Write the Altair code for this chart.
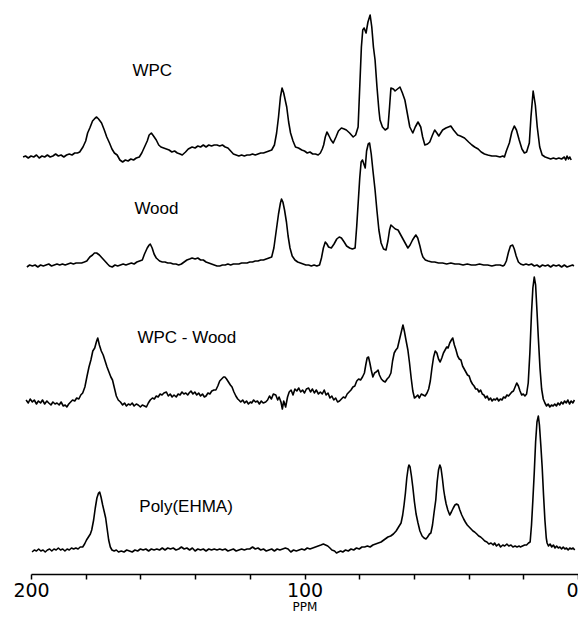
import altair as alt
import pandas as pd

# (ppm, intensity), each trace above its own baseline
WPC = [(202.9,0),(202,1),(201,-1),(200,1),(199,0),(198,2),(197,-1),(196,1),(195,0),(194,2),(193,0),(192,1),(191,3),(190,1),(189,2),(188,0),(187,2),(186,3),(185,2),(184,4),(183,4),(182.2,5),(181,10),(180,16),(179.3,24),(178.5,29),(177.5,36),(176.5,39),(176.0,40),(175.3,38),(174.2,34),(173.2,27),(172.3,20),(171.3,14),(170.4,8),(169.5,4),(168.5,2),(167.5,-3),(166.5,-5),(165.5,-3),(164.5,-4),(163.5,-2),(162.5,-3),(161.5,-1),(160.4,0),(159.5,4),(158.5,10),(157.5,16),(156.8,22),(156.0,24),(155.2,21),(154.2,17),(153.3,12),(152.5,10),(151.5,9),(150.5,8),(149.5,7),(148.5,5),(147.5,6),(146.5,4),(145.5,3),(144.7,2),(143.5,5),(142.5,8),(141.1,10),(140,9),(139,11),(138,10),(137,12),(136,10),(135,12),(134,11),(133,12),(132,12),(131,11),(130,12),(129,10),(128,9),(127,6),(126,3),(125,2),(124,1),(123,2),(122,1),(121,2),(120,2),(119,3),(118,2),(117,3),(116,4),(115,4),(114,5),(113,6),(112,7),(111,12),(110.2,24),(109.5,40),(108.8,60),(108.2,69),(107.6,64),(106.9,55),(106.5,50),(105.8,35),(105.1,24),(104.2,16),(103.3,10),(102.2,9),(101,7),(100,6),(99,4),(98,5),(97,3),(96,3),(95,2),(94.2,4),(93.5,8),(93.0,12),(92.4,20),(91.8,25),(91.2,22),(90.3,17),(89.5,14),(88.5,20),(87.6,26),(86.5,29),(85.5,28),(84.7,27),(83.5,24),(82.2,20),(81.3,22),(80.4,30),(79.8,70),(79.2,110),(78.7,127),(78.2,129),(77.5,124),(76.8,135),(76.0,142),(75.4,130),(74.8,110),(74.2,97),(73.5,70),(72.8,47),(72.4,37),(71.5,30),(70.5,27),(69.5,29),(68.9,50),(68.4,69),(67.5,68),(66.9,66),(66.0,68),(65.1,70),(64.2,64),(63.3,57),(62.3,42),(61.5,30),(60.4,24),(59.5,30),(58.5,35),(57.5,30),(56.8,20),(56.0,12),(55.0,13),(54.2,15),(53.2,22),(52.4,27),(51.6,24),(50.9,21),(50.2,24),(49.5,27),(48.3,29),(47.4,30),(46.5,31),(45.5,27),(44.0,22),(43.0,21),(41.5,19),(40,15),(38.8,12),(37.8,10),(36.5,8),(35.4,5),(34.2,3),(33,2),(31.5,1),(30,1),(28.5,0),(27.5,1),(26.9,0),(26.2,6),(25.1,14),(24.2,25),(23.3,31),(22.5,27),(21.5,17),(20.5,8),(19.6,4),(18.8,5),(17.8,14),(17.2,40),(16.4,66),(15.6,52),(14.9,30),(14.0,10),(13.1,2),(12,0),(11,-1),(10,-2),(9,-1),(8,-2),(7,-1),(6,-2),(5,0),(4.5,-3),(4,1),(3.5,-2),(3,0),(2.5,-3)]

WOOD = [(201.5,-1),(200.5,1),(199.5,0),(198.5,1),(197.5,-1),(196.5,1),(195.5,0),(194.5,1),(193.5,2),(192.5,0),(191.5,1),(190.5,2),(189.5,1),(188.5,2),(187.5,1),(186.5,2),(185.5,3),(184.5,2),(183.5,3),(182.5,3),(181.5,3),(180.5,4),(179.6,5),(178.5,9),(177.5,11),(176.8,13),(176.0,13),(175.0,11),(174,8),(173,5),(172,2),(171.3,0),(170.3,-1),(169.3,1),(168.3,0),(167.3,1),(166.3,2),(165.3,1),(164.3,2),(163.3,3),(162.3,2),(161.3,4),(160.3,5),(159.3,6),(158.5,12),(157.5,18),(156.8,21),(156.4,22),(155.7,18),(155,12),(154.2,8),(153,5),(152,4),(151,4),(150,3),(149,3),(148,2),(147,2),(146,1),(145,2),(144,4),(143,6),(142,7),(141.1,8),(140,7),(139,8),(138,6),(137,6),(136,4),(135,3),(134,2),(133,1),(132,0),(131,0),(130,1),(129,1),(128,2),(127,1),(126,2),(125,2),(124,2),(123,3),(122,3),(121,3),(120,4),(119,4),(118,5),(117,5),(116,6),(115,6),(114,7),(113,8),(112,9),(111.2,18),(110.6,30),(110.0,42),(109.5,52),(108.8,63),(108.4,67),(107.9,64),(107.3,56),(106.6,44),(106.0,30),(105.3,18),(104.5,10),(103.5,6),(102.5,4),(101.5,3),(100.5,2),(99.5,1),(98.5,1),(97.5,0),(96.5,1),(95.5,0),(94.5,1),(93.8,8),(93.1,18),(92.4,24),(91.8,22),(91.2,19),(90.2,18),(89.2,22),(88.2,27),(87.3,29),(86.5,28),(85.5,24),(84.6,20),(83.5,18),(82.5,17),(81.5,18),(80.9,40),(80.4,62),(79.8,88),(79.3,104),(78.8,106),(78.3,102),(77.8,98),(77.3,115),(76.7,122),(76.2,123),(75.6,112),(75.0,96),(74.2,76),(73.5,55),(72.8,36),(72.0,23),(71.1,17),(70.2,16),(69.5,25),(68.9,36),(68.4,41),(67.6,39),(66.8,37),(65.8,36),(64.8,31),(63.8,26),(62.8,21),(62.2,18),(61.4,21),(60.5,26),(59.8,29),(59.3,31),(58.6,28),(57.8,20),(57.2,13),(56.7,9),(55.8,6),(54.8,5),(53.5,4),(52.4,4),(51,3),(49.5,3),(48,2),(46.5,3),(45,2),(43.5,2),(42,1),(40.5,2),(39,1),(37.5,1),(36,2),(34.5,1),(33,1),(31.5,0),(30,1),(28.5,1),(27.5,0),(26.9,1),(26.2,5),(25.4,14),(24.7,20),(23.9,21),(23.3,17),(22.6,10),(21.8,4),(21.0,2),(20.0,1),(19.0,2),(18.0,1),(17.0,2),(16.0,0),(15.0,1),(14.0,-1),(13.0,1),(12.0,0),(11.0,1),(10.0,-1),(9.0,1),(8.0,0),(7.0,1),(6.0,-1),(5.0,1),(4.0,-1),(3.0,0),(2.0,1),(1.5,0)]

DIFF = [(201.8,3),(201,0),(200.3,4),(199.5,1),(198.8,3),(198,-1),(197.3,2),(196.5,0),(195.8,3),(195,-1),(194.2,2),(193.5,0),(192.7,-2),(192,1),(191.2,-1),(190.5,0),(189.7,-2),(189,1),(188.2,-3),(187.5,-2),(186.9,-4),(186.2,-1),(185.5,1),(184.8,3),(184,2),(183.3,5),(182.5,4),(181.8,8),(181.1,10),(180.3,16),(179.5,27),(178.8,36),(178.1,43),(177.4,52),(176.7,55),(176.0,62),(175.6,65),(175.0,58),(174.3,52),(173.6,48),(172.9,42),(172.2,36),(171.5,31),(170.8,26),(170.2,23),(169.5,15),(168.8,7),(168.1,3),(167.3,1),(166.5,-2),(165.8,0),(165.1,-3),(164.4,-1),(163.7,-2),(163,0),(162.3,-3),(161.5,-1),(160.8,-2),(160,-4),(159.3,-2),(158.5,-3),(157.8,-4),(157.1,0),(156.4,3),(155.6,5),(154.9,4),(154.2,7),(153.5,6),(152.8,9),(152.1,8),(151.4,10),(150.5,11),(149.8,7),(149.1,9),(148.4,6),(147.7,8),(146.9,6),(146.2,9),(145.5,8),(144.8,11),(144.1,9),(143.4,10),(142.7,8),(142.2,10),(141.5,12),(140.8,9),(140.1,11),(139.4,8),(138.7,10),(138,7),(137.3,9),(136.6,6),(136.0,7),(135.3,10),(134.6,9),(133.9,12),(133.1,13),(132.4,13),(131.7,17),(131.0,22),(130.3,24),(129.6,26),(129.1,26),(128.5,24),(127.8,21),(127.1,18),(126.5,16),(125.8,11),(125.1,7),(124.4,4),(124.0,3),(123.3,1),(122.6,3),(121.9,0),(121.2,2),(120.5,-1),(119.8,1),(119.3,0),(118.6,3),(117.9,1),(117.2,2),(116.5,-1),(115.8,2),(115.1,0),(114.2,1),(113.5,3),(112.8,7),(112.1,4),(111.4,9),(110.5,8),(109.8,3),(109.3,6),(108.6,1),(108.1,-6),(107.6,2),(106.9,-4),(106.2,6),(105.6,11),(104.9,13),(104.2,8),(103.5,14),(102.8,12),(102.1,15),(101.4,11),(100.7,13),(100,10),(99.3,14),(98.5,15),(97.8,11),(97.1,14),(96.4,10),(95.7,13),(94.9,9),(94.2,11),(93.5,9),(92.8,13),(92.1,8),(91.4,10),(90.7,5),(90,7),(89.3,3),(88.6,5),(87.9,1),(87.2,2),(86.5,4),(85.8,6),(85.1,5),(84.4,9),(83.7,11),(83.0,13),(82.3,16),(81.6,17),(80.9,22),(80.2,24),(79.5,23),(78.8,26),(78.1,30),(77.6,38),(77.1,45),(76.6,46),(76.1,40),(75.6,33),(75.0,26),(74.4,30),(73.8,31),(73.1,33),(72.6,28),(71.9,24),(71.2,22),(70.5,21),(69.8,24),(69.1,26),(68.4,30),(67.8,42),(67.2,50),(66.6,53),(66.0,55),(65.4,62),(64.7,70),(64.0,78),(63.5,72),(62.9,63),(62.2,53),(61.6,40),(61.0,25),(60.4,12),(59.8,5),(59.3,6),(58.6,8),(58.0,5),(57.3,9),(56.6,8),(55.9,7),(55.2,10),(54.6,14),(54.0,22),(53.4,35),(52.8,46),(52.2,52),(51.6,50),(51.0,44),(50.4,41),(49.8,45),(49.2,50),(48.6,53),(48.0,56),(47.5,55),(46.9,60),(46.3,63),(45.8,65),(45.2,58),(44.6,53),(44.0,47),(43.4,44),(42.8,43),(42.2,37),(41.6,34),(41.0,31),(40.4,28),(39.8,27),(39.2,22),(38.6,19),(38.0,17),(37.4,14),(36.8,14),(36.2,11),(35.6,13),(35.0,9),(34.4,8),(33.8,5),(33.2,7),(32.6,3),(32.0,5),(31.4,2),(30.8,4),(30.2,3),(29.6,5),(29.0,2),(28.4,4),(27.8,3),(27.2,6),(26.6,5),(26.0,8),(25.4,7),(24.8,9),(24.2,11),(23.6,12),(23.0,16),(22.4,20),(21.8,17),(21.2,12),(20.6,8),(20.0,9),(19.4,7),(18.8,9),(18.2,20),(17.6,50),(17.0,90),(16.5,115),(16.0,126),(15.5,118),(15.0,92),(14.5,65),(13.9,35),(13.3,14),(12.7,4),(12.1,0),(11.5,-3),(10.9,-1),(10.3,-4),(9.7,-2),(9.1,-3),(8.5,-1),(7.9,-3),(7.3,0),(6.7,-2),(6.1,1),(5.5,-1),(4.9,2),(4.3,0),(3.7,3),(3.1,-1),(2.5,2),(1.9,0),(1.3,3)]

POLY = [(199.6,-2),(198.8,0),(198,-1),(197.2,1),(196.4,-1),(195.6,0),(194.8,-2),(194,0),(193.2,1),(192.4,-1),(191.6,1),(190.8,0),(190,2),(189.2,0),(188.4,1),(187.6,-1),(186.8,1),(186,0),(185.2,2),(184.4,1),(183.6,2),(182.8,1),(182,3),(181.1,3),(180.4,6),(179.7,10),(179,13),(178.3,16),(177.8,20),(177.1,30),(176.5,42),(175.9,52),(175.3,57),(174.9,58),(174.4,53),(173.8,45),(173.2,38),(172.7,32),(172.2,22),(171.6,10),(171.0,3),(170.4,0),(169.6,-1),(168.8,0),(168,-2),(167,-1),(166,-2),(165,0),(164,-1),(163,-2),(162,0),(161,-1),(160,1),(159,0),(158,1),(157,-1),(156,1),(155,0),(154,1),(153,0),(152,2),(151,0),(150,2),(149,1),(148,2),(147,0),(146,1),(145,3),(144,1),(143,2),(142,0),(141,2),(140,-1),(139,1),(138,0),(137,1),(136,-1),(135,1),(134,0),(133,1),(132,0),(131,1),(130,0),(129,1),(128,-1),(127,0),(126,1),(125,-1),(124,0),(123,1),(122,0),(121,1),(120,1),(119,3),(118,1),(117,2),(116,0),(115,1),(114,-1),(113,0),(112,1),(111,-1),(110,1),(109,0),(108,1),(107,2),(106,1),(105,-2),(104,0),(103,-1),(102,0),(101,1),(100,0),(99,2),(98,1),(97,2),(96,3),(95,4),(94,5),(93.1,6),(92.3,5),(91.5,4),(90.7,2),(90,0),(89,-1),(88.3,-3),(87.6,-2),(86.8,-1),(86,-2),(85,0),(84,-1),(83,1),(82,0),(81,2),(80,1),(79,3),(78,3),(77,4),(76,3),(75,5),(74,6),(73,7),(72,8),(71,10),(70,12),(69.5,13),(68.5,14),(67.5,16),(66.5,19),(65.6,23),(64.7,27),(64.1,35),(63.6,45),(63.1,57),(62.6,72),(62.1,82),(61.8,85),(61.4,83),(60.9,74),(60.4,63),(59.8,48),(59.2,36),(58.5,27),(57.8,19),(57.0,14),(56.3,12),(55.6,11),(55.0,13),(54.3,16),(53.8,17),(53.2,25),(52.6,38),(52.0,50),(51.5,68),(51.0,80),(50.5,85),(50.1,82),(49.6,72),(49.1,60),(48.7,53),(48.2,46),(47.6,40),(46.9,35),(46.3,38),(45.6,42),(45.0,45),(44.4,46),(43.8,45),(43.2,40),(42.5,35),(41.8,31),(41.2,28),(40.5,25),(39.8,23),(39.1,21),(38.4,19),(37.8,18),(37.0,16),(36.3,14),(35.6,13),(34.8,11),(34.1,9),(33.3,8),(32.6,6),(31.8,7),(31.0,5),(30.5,7),(29.8,4),(29.0,6),(28.3,3),(27.5,5),(26.8,4),(26.0,6),(25.3,4),(24.5,5),(23.8,3),(23.0,4),(22.3,3),(21.5,4),(21.1,3),(20.3,4),(19.5,5),(18.8,5),(18.1,7),(17.5,8),(17.0,25),(16.5,50),(16.0,77),(15.5,108),(15.0,128),(14.5,134),(14.1,125),(13.6,105),(13.1,83),(12.6,55),(12.1,30),(11.6,12),(11.3,7),(10.8,4),(10.2,6),(9.6,3),(9.0,5),(8.4,2),(7.8,4),(7.2,2),(6.6,3),(6.0,1),(5.4,3),(4.8,1),(4.2,2),(3.6,0),(3.0,2),(2.4,1),(1.8,2),(1.2,0)]

SERIES_NAMES = ["WPC", "Wood", "WPC - Wood", "Poly(EHMA)"]
OFFSETS = [417, 308, 171, 24]          # vertical stacking offset of each trace
LABEL_PPM = [162.9, 162.2, 161.1, 160.4]
LABEL_Y = [503, 365, 236, 67]
TICKS = list(range(0, 201, 10))

rows = []
for name, pts, off in zip(SERIES_NAMES, [WPC, WOOD, DIFF, POLY], OFFSETS):
    for i, (p, v) in enumerate(pts):
        rows.append({"series": name, "ppm": p, "y": v + off, "idx": i})
df = pd.DataFrame(rows)

labels = pd.DataFrame({"label": SERIES_NAMES, "ppm": LABEL_PPM, "y": LABEL_Y})

x_scale = alt.Scale(domain=[200, 0], nice=False, zero=False)
y_scale = alt.Scale(domain=[0, 566], nice=False, zero=False)

x_axis = alt.Axis(
    values=TICKS,
    labelExpr="datum.value % 50 === 0 ? datum.label : ''",
    labelAlign=alt.ExprRef(expr="datum.value === 0 ? 'right' : 'center'"),
    title="PPM",
    grid=False,
    labelOverlap=False,
    labelFlush=False,
    domainColor="black", domainWidth=1.5,
    tickColor="black", tickWidth=1.5, tickSize=5,
    labelFont="DejaVu Sans", labelFontSize=19, labelColor="black", labelPadding=2,
    titleFont="DejaVu Sans", titleFontSize=12, titleFontWeight="normal",
    titleColor="black", titlePadding=1,
)

lines = alt.Chart(df).mark_line(color="black", strokeWidth=1.6, strokeJoin="round").encode(
    x=alt.X("ppm:Q", scale=x_scale, axis=x_axis),
    y=alt.Y("y:Q", scale=y_scale, axis=None),
    detail="series:N",
    order="idx:Q",
)

text = alt.Chart(labels).mark_text(
    align="left", baseline="middle", font="Liberation Sans", fontSize=17, color="black"
).encode(
    x=alt.X("ppm:Q", scale=x_scale),
    y=alt.Y("y:Q", scale=y_scale),
    text="label:N",
)

chart = alt.layer(lines, text).properties(
    width=547,
    height=566,
    autosize=alt.AutoSizeParams(type="none"),
    padding={"left": 23, "top": 0, "right": 0, "bottom": 42},
    background="white",
).configure_view(stroke=None)

chart.save("out.html", embed_options={"renderer": "svg", "actions": False})
